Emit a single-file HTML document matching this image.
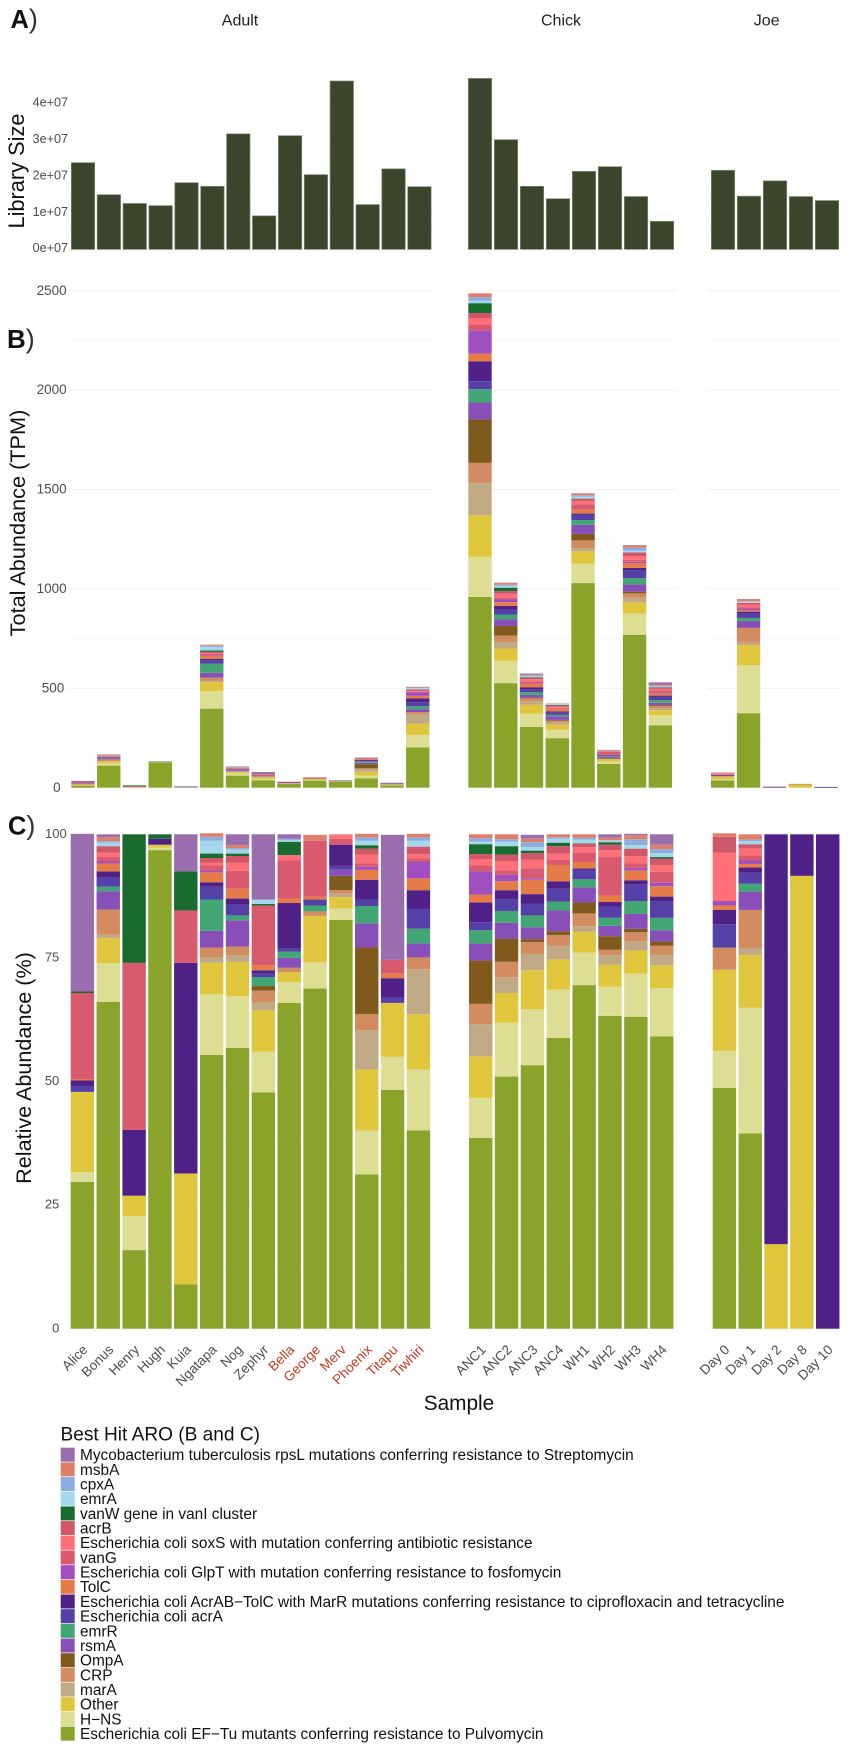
<!DOCTYPE html>
<html lang="en">
<head>
<meta charset="utf-8">
<title>Antibiotic resistance gene abundance by sample</title>
<style>
html,body{margin:0;padding:0;background:#fff;}
body{width:851px;height:1750px;overflow:hidden;}
svg{display:block;font-family:"Liberation Sans",Arial,sans-serif;}
text{font-family:"Liberation Sans",Arial,sans-serif;}
</style>
</head>
<body>
<svg id="figure" xmlns="http://www.w3.org/2000/svg" width="851" height="1750" viewBox="0 0 851 1750">
  <rect x="0" y="0" width="851" height="1750" fill="#ffffff"/>
  <g id="panelA"></g>
  <g id="panelB"></g>
  <g id="panelC"></g>
  <g id="xlabels"></g>
  <g id="legend">
    <text x="60.5" y="1440.3" font-size="19.1" fill="#111">Best Hit ARO (B and C)</text>
  </g>

  <text x="10.5" y="28" font-size="25.5" fill="#111"><tspan font-weight="bold">A</tspan><tspan font-size="27" fill="#333">)</tspan></text>
  <text x="7" y="348" font-size="26" fill="#111"><tspan font-weight="bold">B</tspan><tspan font-size="27" fill="#333">)</tspan></text>
  <text x="8" y="834.5" font-size="25.5" fill="#111"><tspan font-weight="bold">C</tspan><tspan font-size="27" fill="#333">)</tspan></text>

  <text x="240" y="25.5" font-size="16" fill="#222" text-anchor="middle">Adult</text>
  <text x="561" y="25.5" font-size="16" fill="#222" text-anchor="middle">Chick</text>
  <text x="766.7" y="25.5" font-size="16" fill="#222" text-anchor="middle">Joe</text>

  <text transform="translate(24,171) rotate(-90)" font-size="21.8" fill="#111" text-anchor="middle">Library Size</text>
  <text transform="translate(25,523) rotate(-90)" font-size="21.7" fill="#111" text-anchor="middle">Total Abundance (TPM)</text>
  <text transform="translate(31,1068) rotate(-90)" font-size="21.6" fill="#111" text-anchor="middle">Relative Abundance (%)</text>
  <text x="459" y="1410" font-size="20.8" fill="#111" text-anchor="middle">Sample</text>
</svg>

<script>
// ---------- Data ----------
const adultSamples = ['Alice','Bonus','Henry','Hugh','Kuia','Ngatapa','Nog','Zephyr','Bella','George','Merv','Phoenix','Titapu','Tiwhiri'];
const chickSamples = ['ANC1','ANC2','ANC3','ANC4','WH1','WH2','WH3','WH4'];
const joeSamples = ['Day 0','Day 1','Day 2','Day 8','Day 10'];
const highlightedSamples = ['Bella','George','Merv','Phoenix','Titapu','Tiwhiri'];

// Library size, in units of 1e7 reads
const libraryAdult = [2.38,1.50,1.26,1.20,1.83,1.73,3.17,0.92,3.12,2.05,4.62,1.23,2.21,1.72];
const libraryChick = [4.69,3.01,1.73,1.39,2.14,2.27,1.45,0.77];
const libraryJoe = [2.17,1.46,1.88,1.45,1.34];

// Total abundance (TPM)
const totalAdult = [34,168,12,132,7,718,107,79,30,52,37,153,25,507];
const totalChick = [2487,1031,575,424,1481,190,1219,530];
const totalJoe = [76,949,5,19,4];

// Stack order, bottom to top (legend is the reverse)
const geneNames = [
  'Escherichia coli EF\u2212Tu mutants conferring resistance to Pulvomycin',
  'H\u2212NS','Other','marA','CRP','OmpA','rsmA','emrR',
  'Escherichia coli acrA',
  'Escherichia coli AcrAB\u2212TolC with MarR mutations conferring resistance to ciprofloxacin and tetracycline',
  'TolC',
  'Escherichia coli GlpT with mutation conferring resistance to fosfomycin',
  'vanG',
  'Escherichia coli soxS with mutation conferring antibiotic resistance',
  'acrB','vanW gene in vanI cluster','emrA','cpxA','msbA',
  'Mycobacterium tuberculosis rpsL mutations conferring resistance to Streptomycin'
];
const geneColors = ['#8aa42b','#dddd94','#e0c63c','#c0aa85','#d38c5f','#7f5a1c','#884fb8','#42a574','#5440a6','#4f2187','#e57c47','#a04ec0','#d95a6e','#fe6f78','#cf5769','#196b2f','#a4d8ec','#8aaee0','#e07e6a','#9a6eae'];

// Relative abundance (%), one array per sample, in stack order
const relAlice = [29.7,2.0,16.2,0,0,0,0,0,1.2,1.1,0.3,0,17.4,0,0,0.3,0,0,0,31.9];
const relBonus = [66.1,7.8,5.1,0.7,5.1,0,3.7,0.9,1.8,1.3,1.6,0.4,0.9,0.9,1.3,0,0.7,0.3,0.8,0.6];
const relHenry = [15.9,6.9,4.1,0,0,0,0,0,0,13.3,0,0,33.8,0,0,26,0,0,0,0];
const relHugh = [96.8,0.5,0.6,0,0,0,0,0,0,1.2,0,0,0,0,0,0.9,0,0,0,0];
const relKuia = [9,0,22.4,0,0,0,0,0,0,42.6,0,0,10.6,0,0,7.9,0,0,0,7.5];
const relNgatapa = [55.4,12.3,6.3,1.1,2,0,3.4,6.3,2.6,0.9,2,0.4,1,0.6,0.9,0.9,2.6,0.8,0.7,0];
const relNog = [56.8,10.5,6.9,1.3,1.8,0,5.3,1,2.3,1.1,2,0,3.6,1.7,1.3,0.5,0.8,0.3,0.6,2.2];
const relZephyr = [47.8,8.2,8.4,1.6,2.4,0.9,0,1.8,0.7,0.7,1,0,12.1,0,0,0.3,0.9,0,0,13.2];
const relBella = [65.9,4.2,2,0,0.9,0,2,1.3,0.7,9.1,0.9,0,7.7,1.1,0,2.7,0.3,0.3,0,0.9];
const relGeorge = [68.8,5.3,9.4,0,0.9,0,0,1.2,1.2,0,0.6,0,11.3,0,0,0,0,0,1.2,0];
const relMerv = [82.7,2.3,2.3,0.7,0.7,2.9,1.3,0,0.7,4.3,0,0,1.2,0.7,0,0,0,0,0.2,0];
const relPhoenix = [31.2,8.9,12.3,8,3.2,13.5,4.9,3.5,1.3,4,2,0.6,0.7,1.8,1.2,0.7,0.9,0.7,0.7,0];
const relTitapu = [48.3,6.7,10.9,0,0,0,0,0,1.1,3.9,0.9,0,2.8,0,0,0,0,0,0,25.3];
const relTiwhiri = [40.1,12.3,11.2,9.1,2.4,0,2.8,3,4,3.8,2.4,3.4,0.6,0.9,1.5,0,1.2,0.7,0.7,0];
const relANC1 = [38.6,8.1,8.4,6.5,4.1,8.8,3.4,2.7,1.6,4,1.6,4.7,1.2,1.3,1,2,0.5,0.7,0.8,0];
const relANC2 = [51,10.9,6,3.2,3.1,4.7,3.2,2.4,2.4,1.8,1.8,1.3,0.9,1.9,1.3,1.7,0.9,0.5,1,0];
const relANC3 = [53.3,11.3,7.9,3.3,2.4,0.6,2.4,2.4,2.4,1.9,2.9,0.3,2,1.8,1.3,0.5,0.7,1,0.7,0.8];
const relANC4 = [58.8,9.8,6.1,2.8,2.1,0.8,4.2,1.8,2.6,1.5,3.3,0,1,1.3,1.5,0.7,0.8,0.3,0.6,0];
const relWH1 = [69.5,6.6,4.2,1.1,2.6,2.2,3.1,1.6,1.9,0.3,1.3,0,1.9,1.1,0.7,0.1,0.7,0.4,0.7,0];
const relWH2 = [63.3,5.9,4.4,2,1.1,2.7,2.1,1.6,2.3,0.9,1.3,0,7.8,1.4,1.1,0.5,0.4,0,0.5,0.7];
const relWH3 = [63.1,8.7,4.7,1.9,1.8,0.7,3,2.6,3.3,0.9,2,0.5,0.9,1.5,1.5,0,0.7,1.2,0.8,0.3];
const relWH4 = [59.1,9.8,4.6,2.1,1.9,0.8,2.3,2.5,3.4,0.9,2.1,0.7,2.2,1.4,1.3,0.3,0.8,0.8,0.9,2.1];
const relDay0 = [48.7,7.5,16.4,0,4.5,0,0,0,4.7,2.9,0.9,0.9,0,9.8,3.2,0,0,0,0.7,0];
const relDay1 = [39.5,25.4,10.7,1.4,7.7,0,3.7,1.6,2.2,1.1,0.7,0.7,1,1.4,0.9,0,0.6,0.3,1.1,0];
const relDay2 = [0,0,17.1,0,0,0,0,0,0,82.9,0,0,0,0,0,0,0,0,0,0];
const relDay8 = [0,0,91.6,0,0,0,0,0,0,8.4,0,0,0,0,0,0,0,0,0,0];
const relDay10 = [0,0,0,0,0,0,0,0,0,100,0,0,0,0,0,0,0,0,0,0];

const relativeAdult = [relAlice,relBonus,relHenry,relHugh,relKuia,relNgatapa,relNog,relZephyr,relBella,relGeorge,relMerv,relPhoenix,relTitapu,relTiwhiri];
const relativeChick = [relANC1,relANC2,relANC3,relANC4,relWH1,relWH2,relWH3,relWH4];
const relativeJoe = [relDay0,relDay1,relDay2,relDay8,relDay10];

const ticksA = [0,1,2,3,4];
const tickLabelsA = ['0e+07','1e+07','2e+07','3e+07','4e+07'];
const ticksB = [0,500,1000,1500,2000,2500];
const tickLabelsB = ['0','500','1000','1500','2000','2500'];
const ticksC = [0,25,50,75,100];
const tickLabelsC = ['0','25','50','75','100'];

// ---------- Axis functions ----------
function yA(v){ return 249.4 - v * 36.45; }
function yB(v){ return 787.7 - v * 0.1988; }
function yC(v){ return 1328.7 - v * 4.944; }

const facetFrames = {
  a:{left:[71.3,468.3,711.3],step:[25.88,26,26],width:23.4},
  b:{left:[71.3,468.3,711],step:[25.75,25.76,25.83],width:23.4},
  c:{left:[70.7,469,712.7],step:[25.85,25.86,25.83],width:23.4}
};
const gridSpans = [[68,433],[465,677],[707,841]];

function xBand(panel, facet, i){
  const f = facetFrames[panel];
  return f.left[facet] + f.step[facet] * i;
}

const NS = 'http://www.w3.org/2000/svg';
function makeEl(tag, attrs){
  const el = document.createElementNS(NS, tag);
  for (const k in attrs) el.setAttribute(k, attrs[k]);
  return el;
}
function slug(s){ return s.toLowerCase().replace(/[^a-z0-9]+/g,'-').replace(/^-|-$/g,''); }

function drawGrid(parent, yScale, values, color, panelId){
  values.forEach(function(v){
    gridSpans.forEach(function(span, s){
      const line = makeEl('line',{x1:span[0],x2:span[1],y1:yScale(v),y2:yScale(v),stroke:color,'stroke-width':1});
      
      
      parent.appendChild(line);
    });
  });
}
function drawTicks(parent, yScale, values, labels, xFor, size, panelId, nudge){
  values.forEach(function(v, i){
    const t = makeEl('text',{x:xFor(v),y:yScale(v)+size*0.36+nudge,'font-size':size,fill:'#4d4d4d','text-anchor':'end'});
    t.textContent = labels[i];
    
    
    parent.appendChild(t);
  });
}
function drawStack(parent, panel, facet, i, sample, rel, scaleValue, yScale){
  const x = xBand(panel, facet, i);
  const w = facetFrames[panel].width;
  let cum = 0;
  rel.forEach(function(val, g){
    if (val <= 0) return;
    const v0 = scaleValue(cum);
    cum += val;
    const v1 = scaleValue(cum);
    const r = makeEl('rect',{x:x,y:yScale(v1),width:w,height:yScale(v0)-yScale(v1),fill:geneColors[g]});
    
    
    parent.appendChild(r);
  });
}

// ---------- Panel A ----------
const gA = document.getElementById('panelA');
drawGrid(gA, yA, [0.5,1.5,2.5,3.5], '#fdfdfd', 'library-minor');
drawGrid(gA, yA, [1,2,3,4], '#fafafa', 'library');
drawTicks(gA, yA, ticksA, tickLabelsA, function(){ return 68; }, 12.6, 'library', -1.7);
[[adultSamples,libraryAdult],[chickSamples,libraryChick],[joeSamples,libraryJoe]].forEach(function(pair, facet){
  pair[1].forEach(function(v, i){
    const top = yA(v);
    const r = makeEl('rect',{x:xBand('a',facet,i),y:top,width:facetFrames.a.width,height:yA(0)-top,fill:'#3a452b',stroke:'#7f8a74','stroke-width':0.7});
    
    
    gA.appendChild(r);
  });
});

// ---------- Panel B ----------
const gB = document.getElementById('panelB');
drawGrid(gB, yB, [250,750,1250,1750,2250], '#f8f8f8', 'total-minor');
drawGrid(gB, yB, [500,1000,1500,2000,2500], '#f0f0f0', 'total');
drawTicks(gB, yB, ticksB, tickLabelsB, function(v){ return v===0 ? 60.7 : (v===500 ? 64.3 : 66.7); }, 13.5, 'total', -0.8);
[[adultSamples,totalAdult,relativeAdult],[chickSamples,totalChick,relativeChick],[joeSamples,totalJoe,relativeJoe]].forEach(function(tr, facet){
  tr[0].forEach(function(sample, i){
    const total = tr[1][i];
    drawStack(gB,'b',facet,i,sample,tr[2][i],function(c){ return c/100*total; },yB);
  });
});

// ---------- Panel C ----------
const gC = document.getElementById('panelC');
drawGrid(gC, yC, [12.5,37.5,62.5,87.5], '#fcfcfc', 'relative-minor');
drawGrid(gC, yC, [0,25,50,75], '#f6f6f6', 'relative');
drawTicks(gC, yC, ticksC, tickLabelsC, function(v){ return v===100 ? 66.7 : 59.3; }, 13, 'relative', -1.1);
[[adultSamples,relativeAdult],[chickSamples,relativeChick],[joeSamples,relativeJoe]].forEach(function(pair, facet){
  pair[0].forEach(function(sample, i){
    drawStack(gC,'c',facet,i,sample,pair[1][i],function(c){ return c; },yC);
  });
});

// ---------- Sample labels ----------
const gX = document.getElementById('xlabels');
[adultSamples,chickSamples,joeSamples].forEach(function(list, facet){
  list.forEach(function(sample, i){
    const cx = xBand('c',facet,i) + facetFrames.c.width/2;
    const red = highlightedSamples.indexOf(sample) >= 0;
    const t = makeEl('text',{transform:'translate('+(cx+6)+',1350.5) rotate(-45)','font-size':13.6,fill:red?'#c8391f':'#4d4d4d','text-anchor':'end'});
    t.textContent = sample;
    
    
    gX.appendChild(t);
  });
});

// ---------- Legend ----------
const gL = document.getElementById('legend');
geneNames.slice().reverse().forEach(function(name, row){
  const colour = geneColors[geneColors.length - 1 - row];
  const y = 1447.7 + row * 14.68;
  const key = makeEl('rect',{x:60.7,y:y,width:14,height:14,fill:colour});
  
  
  gL.appendChild(key);
  const t = makeEl('text',{x:80,y:y+12.4,'font-size':15.4,fill:'#111'});
  t.textContent = name;
  
  
  gL.appendChild(t);
});
</script>
</body>
</html>
